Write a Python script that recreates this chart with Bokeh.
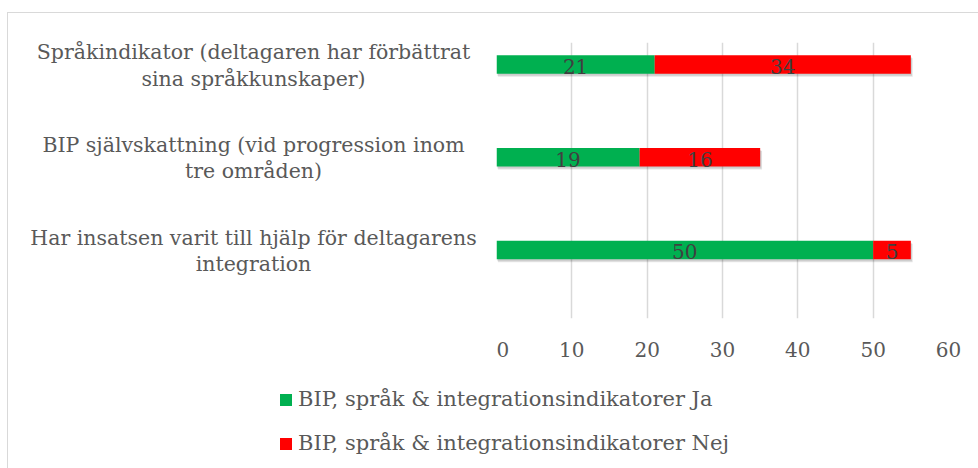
from bokeh.plotting import figure
from bokeh.models import ColumnDataSource, Legend, LegendItem, FixedTicker, Range1d
from bokeh.transform import dodge
from bokeh.layouts import column, row
from bokeh.embed import file_html
from bokeh.resources import INLINE
from bokeh.core.properties import value

# bottom -> top
categories = [
    "Har insatsen varit till hjälp för deltagarens\nintegration",
    "BIP självskattning (vid progression inom\ntre områden)",
    "Språkindikator (deltagaren har förbättrat\nsina språkkunskaper)",
]
ja = [50, 19, 21]
nej = [5, 16, 34]
series_names = ["BIP, språk & integrationsindikatorer Ja",
                "BIP, språk & integrationsindikatorer Nej"]
x_ticks = [0, 10, 20, 30, 40, 50, 60]

GREEN = "#00B050"
RED = "#FF0000"
TEXT = "#595959"
LBL = "#404040"
FONT = "DejaVu Serif"
FS = "20px"
FS_CAT = "20.5px"
FS_LEG = "21px"

ypos = list(range(len(categories)))
src = ColumnDataSource(dict(
    y=ypos, cat=categories, ja=ja, nej=nej,
    total=[a + b for a, b in zip(ja, nej)],
    ja_mid=[a / 2 for a in ja],
    nej_mid=[a + b / 2 for a, b in zip(ja, nej)],
    ja_lbl=[str(a) for a in ja],
    nej_lbl=[str(b) for b in nej],
    lx=[0.0] * len(categories),
))

Y0, Y1 = -0.739, 2.237
TOP, FRAME_H, BOT = 29, 276, 60
H = TOP + FRAME_H + BOT
ppu = FRAME_H / (Y1 - Y0)
y_range = Range1d(Y0, Y1)

# ---- main plot ----
p = figure(width=482, height=H, output_backend="svg", toolbar_location=None,
           x_range=Range1d(0, 60), y_range=y_range, y_axis_location=None,
           min_border_left=0, min_border_right=30, min_border_top=TOP,
           min_border_bottom=BOT)
p.outline_line_color = None

# soft drop shadow behind the bars
p.hbar(y=dodge("y", -3 / ppu), left=0.2, right=dodge("total", 0.25), height=0.2,
       source=src, fill_color="black", fill_alpha=0.10, line_color=None)
p.hbar(y=dodge("y", -2 / ppu), left=0.1, right=dodge("total", 0.15), height=0.2,
       source=src, fill_color="black", fill_alpha=0.10, line_color=None)

rs = p.hbar_stack(["ja", "nej"], y="y", height=0.2, source=src,
                  color=[GREEN, RED], line_color=None)

for xcol, tcol in (("ja_mid", "ja_lbl"), ("nej_mid", "nej_lbl")):
    p.text(x=xcol, y="y", text=tcol, source=src, text_align="center",
           text_baseline="middle", y_offset=2, text_color=LBL,
           text_font=value(FONT), text_font_size=FS)

p.xaxis.ticker = FixedTicker(ticks=x_ticks)
p.xaxis.axis_line_color = None
p.xaxis.major_tick_line_color = None
p.xaxis.minor_tick_line_color = None
p.xaxis.major_label_standoff = 17
p.xaxis.major_label_text_font = FONT
p.xaxis.major_label_text_font_size = FS
p.xaxis.major_label_text_color = TEXT
p.xgrid.ticker = FixedTicker(ticks=x_ticks)
p.xgrid.grid_line_color = "#d9d9d9"
p.xgrid.grid_line_width = 1.5
p.ygrid.grid_line_color = None

# ---- category labels (same vertical mapping as the bars) ----
EXTRA = 20
lab = figure(width=488, height=H, output_backend="svg", toolbar_location=None,
             x_range=Range1d(-1, 1), y_range=Range1d(Y0, Y1 + EXTRA / ppu),
             x_axis_location=None, y_axis_location=None,
             min_border_left=1, min_border_right=1, min_border_top=TOP - EXTRA,
             min_border_bottom=BOT)
lab.outline_line_color = None
lab.grid.grid_line_color = None
lab.text(x="lx", y="y", text="cat", source=src, x_offset=1, y_offset=1,
         text_align="center", text_baseline="middle", text_color=TEXT,
         text_font=value(FONT), text_font_size=FS_CAT, text_line_height=1.1)

# ---- legend ----
leg = figure(width=970, height=90, output_backend="svg", toolbar_location=None,
             x_range=Range1d(0, 1), y_range=Range1d(0, 1),
             x_axis_location=None, y_axis_location=None,
             min_border_left=0, min_border_right=0, min_border_top=0,
             min_border_bottom=0)
leg.outline_line_color = None
leg.grid.grid_line_color = None
items = []
for name, col, c in zip(series_names, ["ja", "nej"], [GREEN, RED]):
    # zero-width bars: only their legend swatch is seen
    r = leg.hbar(y="y", left=col, right=col, height=0.2, source=src,
                 color=c, line_color=None)
    items.append(LegendItem(label=name, renderers=[r]))
legend = Legend(items=items, location=(270, 13), orientation="vertical",
                glyph_width=15, glyph_height=15, label_height=20,
                label_standoff=5, spacing=20, padding=0, margin=0,
                border_line_color=None, background_fill_alpha=0,
                label_text_font=FONT, label_text_font_size=FS_LEG,
                label_text_color=TEXT)
leg.add_layout(legend)

layout = column(row(column(lab), column(p)), leg)
layout.margin = (12, 0, 0, 7)
layout.styles = {"border-top": "1px solid #d9d9d9", "border-left": "1px solid #d9d9d9"}

open("out.html", "w").write(file_html(layout, INLINE))
